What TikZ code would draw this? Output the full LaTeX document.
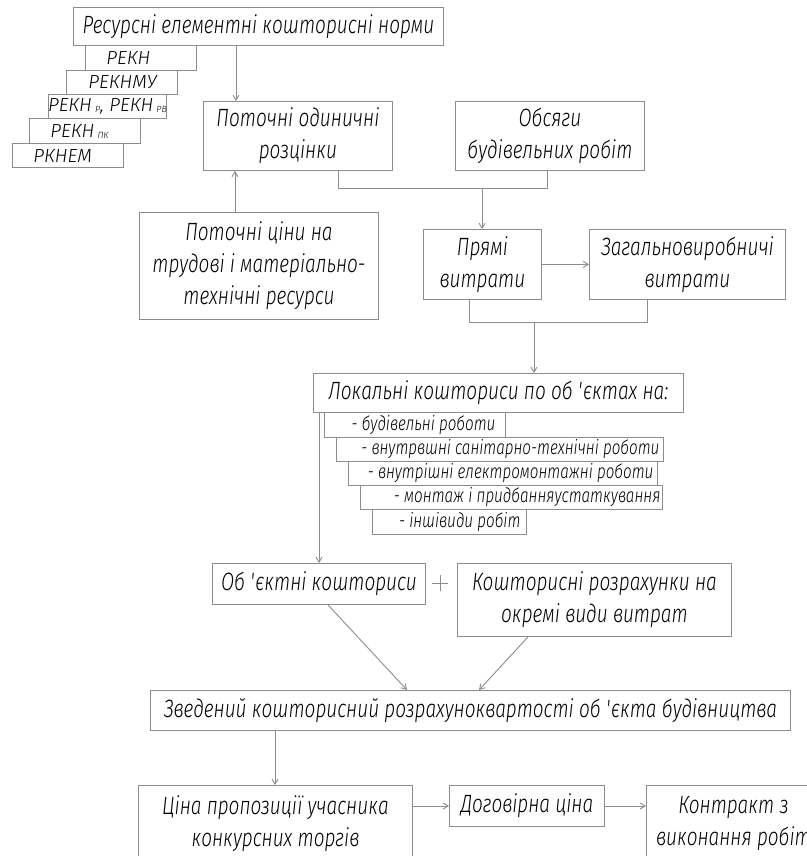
\documentclass[tikz,border=0pt]{standalone}
\usepackage{fontspec}
\setmainfont{Fira Sans Light Italic}[FakeStretch=0.76]
\newfontfamily\capsfont{Fira Sans Light Italic}[FakeStretch=1.0]
\usetikzlibrary{arrows.meta}
\definecolor{lnc}{HTML}{8C8C8C}
\tikzset{
  box/.style={draw=lnc, line width=0.9pt, inner sep=0pt, anchor=north west, align=center,
    font=\fontsize{25}{32}\selectfont},
  subbox/.style={box, font=\capsfont\fontsize{19}{20}\selectfont},
  itembox/.style={box, font=\fontsize{20}{20}\selectfont},
  arr/.style={draw=lnc, line width=0.9pt, -{Straight Barb[length=5pt,width=6pt]}},
  plain/.style={draw=lnc, line width=0.9pt},
}
\newcommand{\sm}[1]{\raisebox{-1pt}{\fontsize{9}{9}\selectfont #1}}
\begin{document}
\begin{tikzpicture}[x=1pt,y=-1pt]
\fill[white] (0,0) rectangle (806,856);
\useasboundingbox (0,0) rectangle (806,856);

% top block
\node[box, minimum width=370pt, minimum height=38pt] (title) at (73,7) {Ресурсні елементні кошторисні норми};
\node[subbox, minimum height=25pt] (rekn) at (85,45) {\makebox[111pt][l]{\hspace*{21pt}РЕКН}};
\node[subbox, minimum height=24pt] (reknmu) at (66,70) {\makebox[111pt][l]{\hspace*{22pt}РЕКНМУ}};
\node[subbox, minimum height=24pt] (reknp) at (48,94) {\makebox[118pt][c]{РЕКН\,\sm{Р}, РЕКН\,\sm{РВ}}};
\node[subbox, minimum height=25pt] (reknpk) at (29,118) {\makebox[111pt][l]{\hspace*{21pt}РЕКН\,\sm{ПК}}};
\node[subbox, minimum height=24pt] (rknem) at (12,143) {\makebox[111pt][l]{\hspace*{21pt}РКНЕМ}};

\node[box, minimum width=189pt, minimum height=69pt] (potochni) at (203,101) {Поточні одиничні\\розцінки};
\node[box, minimum width=189pt, minimum height=69pt] (obsyagy) at (455,101) {Обсяги\\будівельних робіт};
\node[box, minimum width=239pt, minimum height=107pt] (tsiny) at (139,212) {Поточні ціни на\\трудові і матеріально-\\технічні ресурси};
\node[box, minimum width=118pt, minimum height=70pt] (pryami) at (423,229) {Прямі\\витрати};
\node[box, minimum width=196pt, minimum height=70pt] (zahalno) at (589,229) {Загальновиробничі\\витрати};

% local estimates
\node[box, minimum width=370pt, minimum height=39pt] (lokalni) at (313,373) {Локальні кошториси по об \textquotesingle єктах на:};
\node[itembox, minimum height=25pt] (l1) at (324,412) {\makebox[181pt][r]{- будівельні роботи\hspace*{10pt}}};
\node[itembox, minimum height=24pt] (l2) at (336,437) {\makebox[327pt][r]{- внутрвшні санітарно-технічні роботи\hspace*{4pt}}};
\node[itembox, minimum height=24pt] (l3) at (348,461) {\makebox[309pt][r]{- внутрішні електромонтажні роботи\hspace*{4pt}}};
\node[itembox, minimum height=24pt] (l4) at (360,485) {\makebox[302pt][r]{- монтаж і придбанняустаткування\hspace*{2pt}}};
\node[itembox, minimum height=25pt] (l5) at (372,509) {\makebox[154pt][r]{- іншівиди робіт\hspace*{6pt}}};

\node[box, minimum width=213pt, minimum height=41pt] (obyektni) at (212,563) {Об \textquotesingle єктні кошториси};
\node[box, minimum width=274pt, minimum height=73pt] (koshtor) at (457,563) {Кошторисні розрахунки на\\окремі види витрат};
\node[box, minimum width=640pt, minimum height=40pt] (zvedenyi) at (150,690) {Зведений кошторисний розрахуноквартості об \textquotesingle єкта будівництва};

\node[box, minimum width=274pt, minimum height=76pt] (tsina) at (138,785) {Ціна пропозиції учасника\\конкурсних торгів};
\node[box, minimum width=155pt, minimum height=41pt] (dohovir) at (449,785) {Договірна ціна};
\node[box, minimum width=174pt, minimum height=76pt] (kontrakt) at (646,785) {Контракт з\\виконання робіт};

% plus sign
\coordinate (pl) at (440,583);
\draw[plain, line width=0.7pt] ([xshift=-8pt]pl) -- ([xshift=8pt]pl) ([yshift=-8pt]pl) -- ([yshift=8pt]pl);

% connector coordinates
\coordinate (c1) at (236,0);
\coordinate (c2) at (235,0);
\coordinate (c3) at (338,188);
\coordinate (c4) at (547,188);
\coordinate (c5) at (482,188);
\coordinate (c6) at (469,322);
\coordinate (c7) at (647,322);
\coordinate (c8) at (534,322);
\coordinate (c9) at (319,0);
\coordinate (d1) at (328,0);
\coordinate (d2) at (407,0);
\coordinate (d3) at (528,0);
\coordinate (d4) at (479,0);
\coordinate (c10) at (275,0);

\draw[arr] (title.south -| c1) -- (potochni.north -| c1);
\draw[arr] (tsiny.north -| c2) -- (potochni.south -| c2);
\draw[plain] (potochni.south -| c3) -- (c3) -- (c4) -- (obsyagy.south -| c4);
\draw[arr] (c5) -- (pryami.north -| c5);
\draw[arr] (pryami.east) -- (zahalno.west);
\draw[plain] (pryami.south -| c6) -- (c6) -- (c7) -- (zahalno.south -| c7);
\draw[arr] (c8) -- (lokalni.north -| c8);
\draw[arr] (lokalni.south -| c9) -- (obyektni.north -| c9);
\draw[arr] (obyektni.south -| d1) -- (zvedenyi.north -| d2);
\draw[arr] (koshtor.south -| d3) -- (zvedenyi.north -| d4);
\draw[arr] (zvedenyi.south -| c10) -- (tsina.north -| c10);
\draw[arr] (tsina.east |- dohovir.west) -- (dohovir.west);
\draw[arr] (dohovir.east) -- (kontrakt.west |- dohovir.east);
\end{tikzpicture}
\end{document}
